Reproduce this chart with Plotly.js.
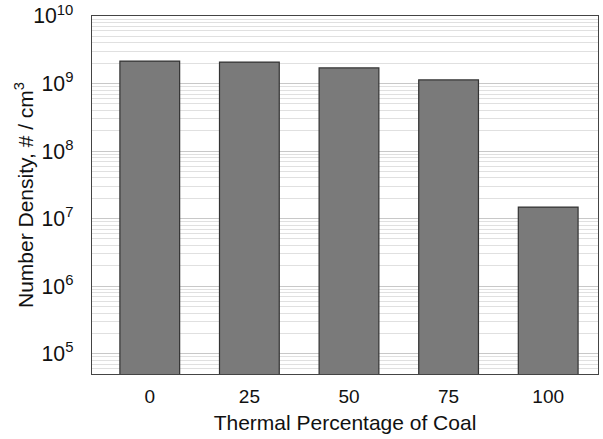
<!DOCTYPE html>
<html>
<head>
<meta charset="utf-8">
<script src="https://cdn.plot.ly/plotly-3.0.1.min.js"></script>
<style>
  html, body { margin: 0; padding: 0; background: #fff; }
  #chart { width: 603px; height: 439px; }
</style>
</head>
<body>
<div id="chart"></div>
<script>
// Particle number density vs. thermal share of coal in the fuel blend
const categories = ['0', '25', '50', '75', '100'];
const numberDensity = [2.15e9, 2.08e9, 1.70e9, 1.13e9, 1.48e7];
const yTitle = 'Number Density, # / cm<sup>3</sup>';
const xTitle = 'Thermal Percentage of Coal';

const fontFamily = 'Liberation Sans, Arial, sans-serif';

const trace = {
  type: 'bar',
  x: categories,
  y: numberDensity,
  width: 0.6,
  marker: { color: '#7a7a7a', line: { color: '#333333', width: 1.2 } },
  hoverinfo: 'x+y'
};

const layout = {
  width: 603,
  height: 439,
  margin: { l: 92, r: 5, t: 16, b: 65 },
  paper_bgcolor: '#ffffff',
  plot_bgcolor: '#ffffff',
  showlegend: false,
  font: { family: fontFamily, color: '#111' },
  xaxis: {
    type: 'category',
    range: [-0.58, 4.5],
    showgrid: false,
    showline: true,
    linecolor: '#444',
    linewidth: 1.2,
    mirror: true,
    ticks: '',
    ticklabelstandoff: 5,
    tickfont: { size: 19, family: fontFamily, color: '#111' },
    title: { text: xTitle, font: { size: 21, family: fontFamily, color: '#111' }, standoff: 9 }
  },
  yaxis: {
    type: 'log',
    range: [Math.log10(5e4), 10],
    dtick: 1,
    exponentformat: 'power',
    showgrid: true,
    gridcolor: '#c8c8c8',
    gridwidth: 1,
    minor: { showgrid: true, dtick: 'D1', gridcolor: '#e0e0e0', gridwidth: 1, ticks: '' },
    showline: true,
    linecolor: '#444',
    linewidth: 1.2,
    mirror: true,
    ticks: '',
    ticklabelstandoff: 14,
    tickfont: { size: 17, family: fontFamily, color: '#111' }
  },
  // vertical axis title, placed beside the tick labels
  annotations: [{
    text: yTitle,
    xref: 'paper', yref: 'paper',
    x: 0, y: 0.5,
    xanchor: 'center', yanchor: 'middle',
    xshift: -68,
    textangle: -90,
    showarrow: false,
    font: { size: 21, family: fontFamily, color: '#111' }
  }]
};

Plotly.newPlot('chart', [trace], layout, { displayModeBar: false, staticPlot: true });
</script>
</body>
</html>
